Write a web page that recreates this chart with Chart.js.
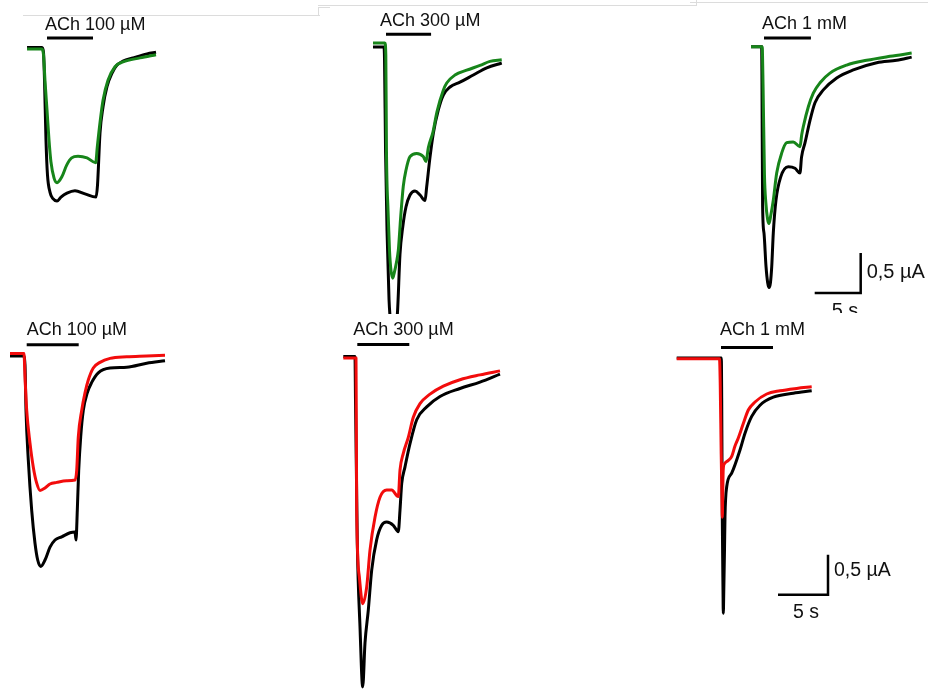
<!DOCTYPE html>
<html>
<head>
<meta charset="utf-8">
<script src="https://cdn.jsdelivr.net/npm/chart.js@4/dist/chart.umd.min.js"></script>
<style>
  html, body { margin: 0; padding: 0; background: #fff; }
  #fig { position: relative; width: 928px; height: 689px; overflow: hidden; background: #fff; }
  #fig canvas { position: absolute; }
  .frame { position: absolute; background: #dcdcdc; }
</style>
</head>
<body>
<div id="fig"></div>
<script>
// ACh-evoked currents: time in s (0 = start of ACh application), current in µA.
// Black = control oocytes, coloured = co-injected oocytes.

const concentrations = ['ACh 100 µM', 'ACh 300 µM', 'ACh 1 mM'];
const achDuration = [5.0, 4.9, 5.1, 5.2, 5.2, 5.2];   // s, per panel
const scaleTime = 5;        // s
const scaleCurrent = 0.5;   // µA
const scaleLabels = ['5 s', '0,5 µA'];

// ---- upper row (green) ----
const topCtrl100 = [[-2.17,0],[-0.54,0],[-0.38,-0.06],[-0.27,-0.41],[-0.11,-1.16],[0.05,-1.59],[0.33,-1.81],[0.65,-1.89],[1.09,-1.92],[1.52,-1.87],[2.17,-1.82],[3.04,-1.79],[4.13,-1.83],[5.33,-1.87],[5.49,-1.72],[5.76,-1.07],[6.09,-0.74],[6.52,-0.49],[7.07,-0.32],[7.61,-0.22],[8.26,-0.17],[9.35,-0.13],[10.87,-0.08],[11.85,-0.06]];
const topTest100 = [[-2.17,-0.02],[-0.54,-0.02],[-0.38,-0.09],[-0.22,-0.41],[0,-0.78],[0.22,-1.16],[0.43,-1.43],[0.76,-1.63],[1.09,-1.69],[1.6,-1.62],[2.14,-1.47],[2.68,-1.38],[3.37,-1.36],[4.35,-1.38],[5.29,-1.44],[5.47,-1.24],[5.76,-0.94],[6.09,-0.66],[6.63,-0.41],[7.39,-0.24],[8.26,-0.18],[10.11,-0.13],[11.85,-0.09]];

const topCtrl300 = [[-1.41,0],[-0.22,0],[-0.16,-0.16],[-0.05,-1.29],[0.11,-2.29],[0.33,-3.16],[0.54,-3.48],[0.73,-3.58],[0.92,-3.52],[1.24,-3.33],[1.52,-2.59],[1.82,-2.25],[2.17,-2.0],[2.61,-1.85],[3.15,-1.8],[3.7,-1.85],[4.24,-1.92],[4.42,-1.75],[4.78,-1.38],[5.14,-1.08],[5.68,-0.79],[6.23,-0.6],[6.96,-0.5],[8.04,-0.44],[9.49,-0.35],[10.95,-0.26],[12.58,-0.2]];
const topTest300 = [[-1.41,0.05],[-0.12,0.05],[-0.02,-0.1],[0.05,-1.29],[0.22,-2.04],[0.38,-2.54],[0.54,-2.79],[0.73,-2.89],[0.92,-2.81],[1.14,-2.69],[1.34,-2.54],[1.6,-2.12],[1.88,-1.74],[2.17,-1.54],[2.61,-1.37],[3.34,-1.33],[4.05,-1.37],[4.35,-1.43],[4.6,-1.26],[5.11,-1.06],[5.54,-0.81],[6.23,-0.54],[6.6,-0.45],[7.5,-0.35],[8.77,-0.29],[10.22,-0.23],[11.3,-0.18],[12.58,-0.16]];

const topCtrl1000 = [[-1.41,0],[-0.25,0],[-0.22,-0.45],[-0.15,-2.0],[0,-2.33],[0.22,-2.75],[0.4,-2.95],[0.55,-3.01],[0.7,-2.95],[0.84,-2.75],[1.01,-2.33],[1.3,-1.92],[1.81,-1.63],[2.64,-1.5],[3.37,-1.52],[3.91,-1.58],[4.08,-1.38],[4.46,-1.2],[5.0,-0.92],[5.54,-0.7],[6.45,-0.54],[7.9,-0.39],[9.71,-0.29],[12.25,-0.2],[14.42,-0.17],[16.05,-0.13]];
const topTest1000 = [[-1.41,0],[-0.2,0],[-0.1,-0.5],[0.05,-1.6],[0.2,-1.95],[0.38,-2.15],[0.54,-2.21],[0.72,-2.12],[1.01,-1.92],[1.38,-1.58],[1.92,-1.33],[2.47,-1.2],[3.18,-1.19],[3.91,-1.25],[4.1,-1.1],[4.27,-1.0],[4.82,-0.75],[5.36,-0.58],[6.09,-0.45],[7.17,-0.33],[8.99,-0.23],[11.16,-0.17],[13.7,-0.12],[16.05,-0.08]];

// ---- lower row (red) ----
const botCtrl100 = [[-1.67,0],[-0.32,0],[-0.17,-0.11],[-0.07,-0.68],[0.16,-1.3],[0.5,-1.93],[0.83,-2.34],[1.1,-2.55],[1.4,-2.63],[1.83,-2.55],[2.33,-2.39],[2.83,-2.3],[3.5,-2.26],[4.33,-2.21],[4.83,-2.2],[4.93,-2.3],[5.06,-1.93],[5.2,-1.43],[5.4,-1.01],[5.66,-0.68],[6.06,-0.46],[6.5,-0.33],[7.16,-0.21],[8.33,-0.15],[10.0,-0.14],[12.0,-0.09],[13.83,-0.06]];
const botTest100 = [[-1.67,0.03],[-0.27,0.03],[-0.17,-0.26],[0,-0.68],[0.33,-1.09],[0.66,-1.39],[1.0,-1.59],[1.33,-1.68],[1.83,-1.65],[2.33,-1.6],[3.0,-1.58],[4.0,-1.56],[4.83,-1.55],[5.0,-1.43],[5.16,-1.01],[5.5,-0.68],[5.83,-0.46],[6.16,-0.3],[6.66,-0.15],[7.33,-0.08],[8.33,-0.03],[10.0,-0.01],[12.0,0],[13.83,0.01]];

const botCtrl300 = [[-1.4,0],[-0.23,0],[-0.18,-0.54],[-0.08,-1.54],[0,-2.33],[0.27,-3.38],[0.54,-4.13],[0.77,-3.58],[1.1,-3.17],[1.44,-2.67],[1.94,-2.29],[2.44,-2.11],[2.94,-2.07],[3.6,-2.11],[4.1,-2.19],[4.27,-1.92],[4.44,-1.59],[4.77,-1.38],[5.27,-1.09],[5.94,-0.79],[6.94,-0.63],[8.27,-0.5],[10.27,-0.4],[12.27,-0.32],[14.27,-0.22]];
const botTest300 = [[-1.4,-0.02],[-0.13,-0.02],[-0.1,-0.79],[-0.06,-1.92],[0.2,-2.75],[0.54,-3.09],[0.94,-2.88],[1.27,-2.42],[1.77,-2.01],[2.27,-1.76],[2.94,-1.67],[3.44,-1.67],[4.1,-1.75],[4.27,-1.42],[4.6,-1.21],[5.1,-1.01],[5.6,-0.76],[6.27,-0.59],[7.27,-0.47],[8.6,-0.37],[10.27,-0.29],[12.27,-0.23],[14.27,-0.18]];

const botCtrl1000 = [[-4.43,0],[0.03,0],[0.07,-0.5],[0.13,-2.0],[0.2,-2.9],[0.23,-3.19],[0.28,-2.9],[0.35,-2.4],[0.4,-1.98],[0.57,-1.61],[1.07,-1.44],[1.9,-1.15],[2.4,-0.94],[3.07,-0.73],[3.9,-0.59],[5.23,-0.49],[7.23,-0.44],[9.07,-0.41]];
const botTest1000 = [[-4.43,-0.01],[-0.15,-0.01],[-0.08,-0.3],[0.02,-1.2],[0.1,-1.8],[0.13,-1.99],[0.17,-1.75],[0.22,-1.4],[0.35,-1.32],[0.73,-1.28],[1.07,-1.23],[1.4,-1.1],[1.73,-1.0],[2.23,-0.82],[2.73,-0.65],[3.4,-0.55],[4.57,-0.45],[5.9,-0.41],[7.57,-0.38],[9.07,-0.36]];

const GREEN = '#17851a';
const RED = '#f20c0c';
const BLACK = '#000000';

// Placement of each panel on the page (pixels) and its scale (px per s, px per µA).
const panels = [
  { ctrl: topCtrl100,  test: topTest100,  color: GREEN, label: concentrations[0], ach: achDuration[0],
    box: [0, 16, 318, 298],   origin: [47, 47.5],   pxs: 9.2, pxa: 80, barLevel: 0.12, labelOff: [-2, -7.7] },
  { ctrl: topCtrl300,  test: topTest300,  color: GREEN, label: concentrations[1], ach: achDuration[1],
    box: [318, 7, 372, 307],  origin: [386, 47],    pxs: 9.2, pxa: 80, barLevel: 0.16, labelOff: [-6, -8.6] },
  { ctrl: topCtrl1000, test: topTest1000, color: GREEN, label: concentrations[2], ach: achDuration[2],
    box: [690, 3, 238, 310],  origin: [764, 46.7],  pxs: 9.2, pxa: 80, barLevel: 0.11, labelOff: [-2, -9.4],
    scaleBar: { corner: [10.51, -3.08], font: 20, iOff: [6, -14.7], tOff: [-29, 24] } },
  { ctrl: botCtrl100,  test: botTest100,  color: RED, label: concentrations[0], ach: achDuration[3],
    box: [0, 316, 330, 373],  origin: [26.7, 356],  pxs: 10, pxa: 80, barLevel: 0.14, labelOff: [0, -10] },
  { ctrl: botCtrl300,  test: botTest300,  color: RED, label: concentrations[1], ach: achDuration[4],
    box: [330, 316, 340, 373], origin: [357.3, 356.5], pxs: 10, pxa: 80, barLevel: 0.15, labelOff: [-4, -9.3] },
  { ctrl: botCtrl1000, test: botTest1000, color: RED, label: concentrations[2], ach: achDuration[5],
    box: [670, 316, 258, 373], origin: [721, 358],  pxs: 10, pxa: 80, barLevel: 0.13, labelOff: [-1, -12.7],
    scaleBar: { corner: [10.7, -2.96], font: 19.5, iOff: [6, -19], tOff: [-35, 23] } }
];

// Writes text anchored to data coordinates, shifted by a pixel offset.
const panelText = {
  id: 'panelText',
  afterDatasetsDraw(chart, args, opts) {
    const { ctx, scales: { x, y } } = chart;
    ctx.save();
    ctx.fillStyle = '#111';
    ctx.textAlign = 'left';
    ctx.textBaseline = 'alphabetic';
    (opts.items || []).forEach(it => {
      ctx.font = it.size + 'px "Liberation Sans", Arial, sans-serif';
      ctx.fillText(it.text, x.getPixelForValue(it.x) + it.dx, y.getPixelForValue(it.y) + it.dy);
    });
    ctx.restore();
  }
};

const fig = document.getElementById('fig');

// faint frame edges of the assembled panels
[[23, 15, 297, 1], [318, 7, 12, 1], [318, 7, 1, 9], [318, 5, 379, 1], [696, 0, 1, 6], [690, 2, 238, 1]]
  .forEach(([l, t, w, h]) => {
    const d = document.createElement('div');
    d.className = 'frame';
    d.style.cssText = `left:${l}px;top:${t}px;width:${w}px;height:${h}px;`;
    fig.appendChild(d);
  });

const toXY = arr => arr.map(([t, i]) => ({ x: t, y: i }));

panels.forEach(p => {
  const [left, top, w, h] = p.box;
  const cv = document.createElement('canvas');
  cv.width = w; cv.height = h;
  cv.style.left = left + 'px';
  cv.style.top = top + 'px';
  cv.style.width = w + 'px';
  cv.style.height = h + 'px';
  fig.appendChild(cv);

  const xmin = (left - p.origin[0]) / p.pxs;
  const xmax = (left + w - p.origin[0]) / p.pxs;
  const ymax = (p.origin[1] - top) / p.pxa;
  const ymin = (p.origin[1] - top - h) / p.pxa;

  const trace = (data, color, order) => ({
    data: toXY(data), borderColor: color, borderWidth: 3, pointRadius: 0,
    cubicInterpolationMode: 'monotone', fill: false, order, borderJoinStyle: 'round', borderCapStyle: 'butt'
  });

  const datasets = [
    trace(p.test, p.color, 0),
    trace(p.ctrl, BLACK, 1),
    { data: [{ x: 0, y: p.barLevel }, { x: p.ach, y: p.barLevel }],
      borderColor: BLACK, borderWidth: 3, pointRadius: 0, tension: 0, order: 2 }
  ];

  const items = [{ text: p.label, x: 0, y: p.barLevel, dx: p.labelOff[0], dy: p.labelOff[1], size: 18 }];

  if (p.scaleBar) {
    const [ct, ci] = p.scaleBar.corner;
    datasets.push({
      data: [{ x: ct - scaleTime, y: ci }, { x: ct, y: ci }, { x: ct, y: ci + scaleCurrent }],
      borderColor: BLACK, borderWidth: 2.5, pointRadius: 0, tension: 0, order: 3, borderJoinStyle: 'miter'
    });
    items.push({ text: scaleLabels[1], x: ct, y: ci, dx: p.scaleBar.iOff[0], dy: p.scaleBar.iOff[1], size: p.scaleBar.font });
    items.push({ text: scaleLabels[0], x: ct, y: ci, dx: p.scaleBar.tOff[0], dy: p.scaleBar.tOff[1], size: p.scaleBar.font });
  }

  new Chart(cv, {
    type: 'line',
    data: { datasets },
    options: {
      responsive: false,
      animation: false,
      devicePixelRatio: 1,
      layout: { padding: 0 },
      scales: {
        x: { type: 'linear', min: xmin, max: xmax, display: false },
        y: { type: 'linear', min: ymin, max: ymax, display: false }
      },
      plugins: { legend: { display: false }, tooltip: { enabled: false }, panelText: { items } }
    },
    plugins: [panelText]
  });
});
</script>
</body>
</html>
